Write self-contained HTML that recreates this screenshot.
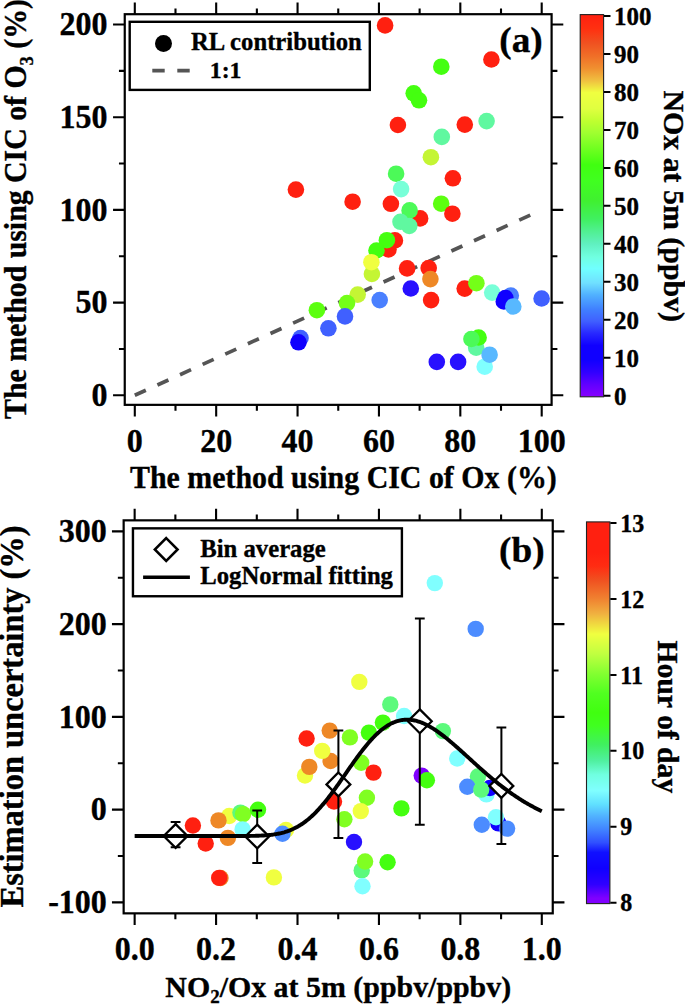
<!DOCTYPE html><html><head><meta charset="utf-8"><style>html,body{margin:0;padding:0;background:#fff;width:685px;height:1005px;overflow:hidden}</style></head><body>
<svg width="685" height="1005" viewBox="0 0 685 1005" style="position:absolute;left:0;top:0;font-family:'Liberation Serif',serif;font-weight:bold">
<style>text{stroke:#000;stroke-width:0.35px;stroke-linejoin:round}</style>
<rect width="685" height="1005" fill="#fff"/>
<line x1="134.80" y1="395.30" x2="541.70" y2="209.90" stroke="#555" stroke-width="3.7" stroke-dasharray="12.1 12.75"/>
<circle cx="385.1" cy="25.4" r="8.3" fill="#ff2010"/>
<circle cx="491.4" cy="59.5" r="8.3" fill="#ff2010"/>
<circle cx="441.3" cy="66.7" r="8.3" fill="#44ff10"/>
<circle cx="413.7" cy="93.3" r="8.3" fill="#44ff10"/>
<circle cx="419.0" cy="100.3" r="8.3" fill="#44ff10"/>
<circle cx="397.9" cy="125.0" r="8.3" fill="#ff2010"/>
<circle cx="464.8" cy="124.6" r="8.3" fill="#ff2010"/>
<circle cx="486.6" cy="121.1" r="8.3" fill="#60f8a0"/>
<circle cx="441.8" cy="136.9" r="8.3" fill="#60f8a0"/>
<circle cx="430.9" cy="157.2" r="8.3" fill="#c4f534"/>
<circle cx="396.1" cy="173.7" r="8.3" fill="#4cfa58"/>
<circle cx="452.9" cy="178.3" r="8.3" fill="#ff2010"/>
<circle cx="401.1" cy="189.1" r="8.3" fill="#78ffd8"/>
<circle cx="295.9" cy="189.6" r="8.3" fill="#ff2010"/>
<circle cx="352.6" cy="201.7" r="8.3" fill="#ff2010"/>
<circle cx="390.9" cy="203.8" r="8.3" fill="#ff2010"/>
<circle cx="441.2" cy="203.7" r="8.3" fill="#5cff10"/>
<circle cx="452.4" cy="213.7" r="8.3" fill="#ff2010"/>
<circle cx="420.1" cy="218.4" r="8.3" fill="#ff2010"/>
<circle cx="409.6" cy="210.4" r="8.3" fill="#4cfa58"/>
<circle cx="409.3" cy="226.0" r="8.3" fill="#60f8a0"/>
<circle cx="400.5" cy="221.8" r="8.3" fill="#60f8a0"/>
<circle cx="394.9" cy="240.4" r="8.3" fill="#ff2010"/>
<circle cx="388.5" cy="249.5" r="8.3" fill="#ff2010"/>
<circle cx="386.9" cy="240.2" r="8.3" fill="#44ff10"/>
<circle cx="376.5" cy="250.5" r="8.3" fill="#44ff10"/>
<circle cx="371.9" cy="274.0" r="8.3" fill="#c4f534"/>
<circle cx="371.4" cy="262.2" r="8.3" fill="#f0ff40"/>
<circle cx="407.1" cy="268.4" r="8.3" fill="#ff2010"/>
<circle cx="428.7" cy="268.1" r="8.3" fill="#ff2010"/>
<circle cx="430.4" cy="279.1" r="8.3" fill="#ee8826"/>
<circle cx="431.1" cy="300.1" r="8.3" fill="#ff2010"/>
<circle cx="410.8" cy="288.5" r="8.3" fill="#2810ff"/>
<circle cx="464.7" cy="288.6" r="8.3" fill="#ff2010"/>
<circle cx="476.4" cy="283.2" r="8.3" fill="#74ff18"/>
<circle cx="492.2" cy="292.6" r="8.3" fill="#78ffd8"/>
<circle cx="510.8" cy="295.5" r="8.3" fill="#4a80ff"/>
<circle cx="505.4" cy="298.0" r="8.3" fill="#1000ff"/>
<circle cx="503.8" cy="301.5" r="8.3" fill="#1000ff"/>
<circle cx="513.3" cy="306.5" r="8.3" fill="#58b8ff"/>
<circle cx="541.6" cy="298.5" r="8.3" fill="#4060ff"/>
<circle cx="357.7" cy="294.6" r="8.3" fill="#c4f534"/>
<circle cx="347.0" cy="303.1" r="8.3" fill="#74ff18"/>
<circle cx="345.0" cy="316.4" r="8.3" fill="#4060ff"/>
<circle cx="316.9" cy="310.2" r="8.3" fill="#5cff10"/>
<circle cx="328.4" cy="328.3" r="8.3" fill="#4060ff"/>
<circle cx="379.7" cy="300.1" r="8.3" fill="#4a80ff"/>
<circle cx="300.5" cy="338.0" r="8.3" fill="#4060ff"/>
<circle cx="298.5" cy="342.3" r="8.3" fill="#1000ff"/>
<circle cx="476.2" cy="347.7" r="8.3" fill="#60f8a0"/>
<circle cx="478.6" cy="337.5" r="8.3" fill="#44ff10"/>
<circle cx="471.4" cy="339.0" r="8.3" fill="#4cfa58"/>
<circle cx="484.7" cy="366.7" r="8.3" fill="#80ffff"/>
<circle cx="489.6" cy="354.7" r="8.3" fill="#58b8ff"/>
<circle cx="436.8" cy="361.9" r="8.3" fill="#2810ff"/>
<circle cx="458.1" cy="361.9" r="8.3" fill="#2810ff"/>
<rect x="124.75" y="14.2" width="426.85" height="390.65000000000003" fill="none" stroke="#000" stroke-width="2.2"/>
<path d="M134.80 14.2V2.5M134.80 404.85V416.55M175.49 14.2V8.399999999999999M175.49 404.85V410.65000000000003M216.18 14.2V2.5M216.18 404.85V416.55M256.87 14.2V8.399999999999999M256.87 404.85V410.65000000000003M297.56 14.2V2.5M297.56 404.85V416.55M338.25 14.2V8.399999999999999M338.25 404.85V410.65000000000003M378.94 14.2V2.5M378.94 404.85V416.55M419.63 14.2V8.399999999999999M419.63 404.85V410.65000000000003M460.32 14.2V2.5M460.32 404.85V416.55M501.01 14.2V8.399999999999999M501.01 404.85V410.65000000000003M541.70 14.2V2.5M541.70 404.85V416.55" stroke="#000" stroke-width="2.1" fill="none"/>
<path d="M124.75 395.30H113.05M551.6 395.30H563.3000000000001M124.75 348.95H118.95M551.6 348.95H557.4M124.75 302.60H113.05M551.6 302.60H563.3000000000001M124.75 256.25H118.95M551.6 256.25H557.4M124.75 209.90H113.05M551.6 209.90H563.3000000000001M124.75 163.55H118.95M551.6 163.55H557.4M124.75 117.20H113.05M551.6 117.20H563.3000000000001M124.75 70.85H118.95M551.6 70.85H557.4M124.75 24.50H113.05M551.6 24.50H563.3000000000001" stroke="#000" stroke-width="2.1" fill="none"/>
<text transform="translate(134.80 452.3) scale(1 1.04)" font-size="32" text-anchor="middle" >0</text>
<text transform="translate(216.18 452.3) scale(1 1.04)" font-size="32" text-anchor="middle" >20</text>
<text transform="translate(297.56 452.3) scale(1 1.04)" font-size="32" text-anchor="middle" >40</text>
<text transform="translate(378.94 452.3) scale(1 1.04)" font-size="32" text-anchor="middle" >60</text>
<text transform="translate(460.32 452.3) scale(1 1.04)" font-size="32" text-anchor="middle" >80</text>
<text transform="translate(541.70 452.3) scale(1 1.04)" font-size="32" text-anchor="middle" >100</text>
<text transform="translate(107.6 406.10) scale(1 1.03)" font-size="32" text-anchor="end" >0</text>
<text transform="translate(107.6 313.40) scale(1 1.03)" font-size="32" text-anchor="end" >50</text>
<text transform="translate(107.6 220.70) scale(1 1.03)" font-size="32" text-anchor="end" >100</text>
<text transform="translate(107.6 128.00) scale(1 1.03)" font-size="32" text-anchor="end" >150</text>
<text transform="translate(107.6 35.30) scale(1 1.03)" font-size="32" text-anchor="end" >200</text>
<text transform="translate(130.0 487.7) scale(1 1.05)" font-size="29.9" text-anchor="start" >The method using CIC of Ox (%)</text>
<text transform="translate(26.4 418.9) rotate(-90) scale(1 1.03)" font-size="29.8">The method using CIC of O<tspan font-size="18.5" dy="6">3</tspan><tspan dy="-6"> (%)</tspan></text>
<rect x="129.7" y="21.8" width="240.1" height="68.1" fill="#fff" stroke="#000" stroke-width="2.4"/>
<circle cx="163.5" cy="43.4" r="8.5" fill="#000"/>
<line x1="152.3" y1="70.7" x2="190" y2="70.7" stroke="#555" stroke-width="3.8" stroke-dasharray="12.4 12.6"/>
<text transform="translate(191.0 50.2) scale(1 0.99)" font-size="24.7" text-anchor="start" >RL contribution</text>
<text transform="translate(209.8 78.0) scale(1 1.0)" font-size="23.8" text-anchor="start" >1:1</text>
<text transform="translate(499.3 52.0) scale(1 0.97)" font-size="37.3" text-anchor="start" >(a)</text>
<defs>
<linearGradient id="g1" x1="0" y1="1" x2="0" y2="0"><stop offset="0" stop-color="#8800ff"/><stop offset="0.033" stop-color="#6000ff"/><stop offset="0.065" stop-color="#3000ff"/><stop offset="0.097" stop-color="#1000ff"/><stop offset="0.134" stop-color="#1000ff"/><stop offset="0.166" stop-color="#2828ff"/><stop offset="0.198" stop-color="#4060ff"/><stop offset="0.229" stop-color="#4080ff"/><stop offset="0.266" stop-color="#50b0ff"/><stop offset="0.298" stop-color="#70e0ff"/><stop offset="0.335" stop-color="#70ffff"/><stop offset="0.366" stop-color="#70ffe0"/><stop offset="0.4" stop-color="#60f0c0"/><stop offset="0.434" stop-color="#50f090"/><stop offset="0.465" stop-color="#40f060"/><stop offset="0.513" stop-color="#40f030"/><stop offset="0.565" stop-color="#40ff20"/><stop offset="0.607" stop-color="#40ff10"/><stop offset="0.649" stop-color="#70ff20"/><stop offset="0.691" stop-color="#a0ff30"/><stop offset="0.722" stop-color="#c0ff30"/><stop offset="0.754" stop-color="#e0ff40"/><stop offset="0.796" stop-color="#f0ff40"/><stop offset="0.827" stop-color="#f0c040"/><stop offset="0.859" stop-color="#f09030"/><stop offset="0.89" stop-color="#f07028"/><stop offset="0.927" stop-color="#f05020"/><stop offset="0.963" stop-color="#ff3010"/><stop offset="1" stop-color="#ff2010"/></linearGradient>
</defs>
<rect x="580.2" y="14.6" width="23.4" height="382.2" fill="url(#g1)" stroke="#222" stroke-width="1.1"/>
<path d="M604 395.70H610.5M604 357.73H610.5M604 319.76H610.5M604 281.79H610.5M604 243.82H610.5M604 205.85H610.5M604 167.88H610.5M604 129.91H610.5M604 91.94H610.5M604 53.97H610.5M604 16.00H610.5" stroke="#000" stroke-width="2"/>
<text transform="translate(614.0 404.50) scale(1 1.04)" font-size="25.0" text-anchor="start" >0</text>
<text transform="translate(614.0 366.53) scale(1 1.04)" font-size="25.0" text-anchor="start" >10</text>
<text transform="translate(614.0 328.56) scale(1 1.04)" font-size="25.0" text-anchor="start" >20</text>
<text transform="translate(614.0 290.59) scale(1 1.04)" font-size="25.0" text-anchor="start" >30</text>
<text transform="translate(614.0 252.62) scale(1 1.04)" font-size="25.0" text-anchor="start" >40</text>
<text transform="translate(614.0 214.65) scale(1 1.04)" font-size="25.0" text-anchor="start" >50</text>
<text transform="translate(614.0 176.68) scale(1 1.04)" font-size="25.0" text-anchor="start" >60</text>
<text transform="translate(614.0 138.71) scale(1 1.04)" font-size="25.0" text-anchor="start" >70</text>
<text transform="translate(614.0 100.74) scale(1 1.04)" font-size="25.0" text-anchor="start" >80</text>
<text transform="translate(614.0 62.77) scale(1 1.04)" font-size="25.0" text-anchor="start" >90</text>
<text transform="translate(614.0 24.80) scale(1 1.04)" font-size="25.0" text-anchor="start" >100</text>
<text transform="translate(663.5 90.4) rotate(90) scale(1 1.0)" font-size="29.9">NOx at 5m (ppbv)</text>
<circle cx="192.9" cy="825.5" r="8.2" fill="#ff2010"/>
<circle cx="205.7" cy="843.5" r="8.2" fill="#ff2010"/>
<circle cx="220.5" cy="878.0" r="8.2" fill="#ee8826"/>
<circle cx="219.2" cy="877.9" r="8.2" fill="#ff2010"/>
<circle cx="229.2" cy="816.0" r="8.2" fill="#f0ff40"/>
<circle cx="218.5" cy="820.4" r="8.2" fill="#ee8826"/>
<circle cx="240.4" cy="812.6" r="8.2" fill="#5cfa7c"/>
<circle cx="243.1" cy="814.1" r="8.2" fill="#80ff22"/>
<circle cx="258.0" cy="809.7" r="8.2" fill="#44ff10"/>
<circle cx="242.6" cy="829.4" r="8.2" fill="#80ffff"/>
<circle cx="227.9" cy="837.9" r="8.2" fill="#ee8826"/>
<circle cx="286.0" cy="830.0" r="8.2" fill="#f0ff40"/>
<circle cx="282.5" cy="833.8" r="8.2" fill="#4c8cff"/>
<circle cx="273.9" cy="877.4" r="8.2" fill="#f0ff40"/>
<circle cx="306.6" cy="738.5" r="8.2" fill="#ff2010"/>
<circle cx="329.7" cy="730.6" r="8.2" fill="#ee8826"/>
<circle cx="330.6" cy="761.0" r="8.2" fill="#ee8826"/>
<circle cx="322.2" cy="750.9" r="8.2" fill="#f0ff40"/>
<circle cx="305.0" cy="775.5" r="8.2" fill="#f0ff40"/>
<circle cx="309.3" cy="766.9" r="8.2" fill="#ee8826"/>
<circle cx="349.9" cy="737.4" r="8.2" fill="#80ff22"/>
<circle cx="368.9" cy="732.6" r="8.2" fill="#44ff10"/>
<circle cx="382.9" cy="722.6" r="8.2" fill="#44ff10"/>
<circle cx="359.3" cy="681.9" r="8.2" fill="#f0ff40"/>
<circle cx="390.3" cy="704.4" r="8.2" fill="#5cfa7c"/>
<circle cx="404.1" cy="716.0" r="8.2" fill="#80ffff"/>
<circle cx="361.2" cy="762.7" r="8.2" fill="#80ff22"/>
<circle cx="373.5" cy="772.6" r="8.2" fill="#ff2010"/>
<circle cx="334.0" cy="801.5" r="8.2" fill="#ff2010"/>
<circle cx="366.9" cy="797.8" r="8.2" fill="#80ff22"/>
<circle cx="360.8" cy="811.1" r="8.2" fill="#f0ff40"/>
<circle cx="344.4" cy="819.3" r="8.2" fill="#80ff22"/>
<circle cx="354.0" cy="842.0" r="8.2" fill="#2810ff"/>
<circle cx="401.4" cy="808.4" r="8.2" fill="#44ff10"/>
<circle cx="361.7" cy="870.4" r="8.2" fill="#5cfa7c"/>
<circle cx="365.1" cy="861.5" r="8.2" fill="#80ff22"/>
<circle cx="387.6" cy="862.2" r="8.2" fill="#44ff10"/>
<circle cx="362.5" cy="886.2" r="8.2" fill="#80ffff"/>
<circle cx="434.8" cy="583.1" r="8.2" fill="#80ffff"/>
<circle cx="475.7" cy="628.9" r="8.2" fill="#4c8cff"/>
<circle cx="442.9" cy="731.1" r="8.2" fill="#5cfa7c"/>
<circle cx="457.2" cy="758.5" r="8.2" fill="#80ffff"/>
<circle cx="421.7" cy="775.6" r="8.2" fill="#8000ff"/>
<circle cx="426.9" cy="780.3" r="8.2" fill="#44ff10"/>
<circle cx="477.9" cy="776.5" r="8.2" fill="#5cfa7c"/>
<circle cx="467.3" cy="786.8" r="8.2" fill="#4c8cff"/>
<circle cx="486.4" cy="794.4" r="8.2" fill="#80ffff"/>
<circle cx="489.9" cy="788.0" r="8.2" fill="#1000ff"/>
<circle cx="481.2" cy="789.6" r="8.2" fill="#5cfa7c"/>
<circle cx="498.4" cy="823.4" r="8.2" fill="#1000ff"/>
<circle cx="496.0" cy="817.2" r="8.2" fill="#80ffff"/>
<circle cx="481.8" cy="824.7" r="8.2" fill="#4c8cff"/>
<circle cx="507.1" cy="828.6" r="8.2" fill="#4c8cff"/>
<path d="M175.6 824.1L187.5 836.0L175.6 847.9L163.7 836.0Z" fill="#fff" stroke="#000" stroke-width="2.3"/>
<path d="M257.2 824.6L269.09999999999997 836.5L257.2 848.4L245.29999999999998 836.5Z" fill="#fff" stroke="#000" stroke-width="2.3"/>
<path d="M338.4 772.5L350.29999999999995 784.4L338.4 796.3L326.5 784.4Z" fill="#fff" stroke="#000" stroke-width="2.3"/>
<path d="M419.8 709.4L431.7 721.3L419.8 733.1999999999999L407.90000000000003 721.3Z" fill="#fff" stroke="#000" stroke-width="2.3"/>
<path d="M501.4 774.0L513.3 785.9L501.4 797.8L489.5 785.9Z" fill="#fff" stroke="#000" stroke-width="2.3"/>
<path d="M175.6 822.0V824.1M175.6 847.9V847.3M170.7 822.0H180.5M170.7 847.3H180.5M257.2 810.4V824.6M257.2 848.4V863.0M252.29999999999998 810.4H262.09999999999997M252.29999999999998 863.0H262.09999999999997M338.4 730.6V772.5M338.4 796.3V838.1M333.5 730.6H343.29999999999995M333.5 838.1H343.29999999999995M419.8 618.5V709.4M419.8 733.1999999999999V824.7M414.90000000000003 618.5H424.7M414.90000000000003 824.7H424.7M501.4 727.6V774.0M501.4 797.8V843.9M496.5 727.6H506.29999999999995M496.5 843.9H506.29999999999995" stroke="#000" stroke-width="2.0" fill="none"/>
<polyline points="134.65,836.03 135.67,836.03 136.69,836.03 137.70,836.03 138.72,836.03 139.74,836.03 140.76,836.03 141.78,836.03 142.79,836.03 143.81,836.03 144.83,836.03 145.85,836.03 146.86,836.03 147.88,836.03 148.90,836.03 149.92,836.03 150.94,836.03 151.95,836.03 152.97,836.03 153.99,836.03 155.01,836.03 156.03,836.03 157.04,836.03 158.06,836.03 159.08,836.03 160.10,836.03 161.11,836.03 162.13,836.03 163.15,836.03 164.17,836.03 165.19,836.03 166.20,836.03 167.22,836.03 168.24,836.03 169.26,836.03 170.28,836.03 171.29,836.03 172.31,836.03 173.33,836.03 174.35,836.03 175.37,836.03 176.38,836.03 177.40,836.03 178.42,836.03 179.44,836.03 180.45,836.03 181.47,836.03 182.49,836.03 183.51,836.03 184.53,836.03 185.54,836.03 186.56,836.03 187.58,836.03 188.60,836.03 189.62,836.03 190.63,836.03 191.65,836.03 192.67,836.03 193.69,836.03 194.70,836.03 195.72,836.03 196.74,836.03 197.76,836.03 198.78,836.03 199.79,836.03 200.81,836.03 201.83,836.03 202.85,836.03 203.87,836.03 204.88,836.03 205.90,836.03 206.92,836.03 207.94,836.03 208.95,836.03 209.97,836.03 210.99,836.03 212.01,836.03 213.03,836.03 214.04,836.03 215.06,836.03 216.08,836.03 217.10,836.03 218.12,836.03 219.13,836.03 220.15,836.03 221.17,836.03 222.19,836.03 223.21,836.03 224.22,836.03 225.24,836.03 226.26,836.03 227.28,836.03 228.29,836.03 229.31,836.03 230.33,836.02 231.35,836.02 232.37,836.02 233.38,836.02 234.40,836.02 235.42,836.02 236.44,836.02 237.46,836.01 238.47,836.01 239.49,836.01 240.51,836.01 241.53,836.00 242.54,836.00 243.56,835.99 244.58,835.98 245.60,835.98 246.62,835.97 247.63,835.96 248.65,835.95 249.67,835.93 250.69,835.92 251.71,835.90 252.72,835.88 253.74,835.86 254.76,835.84 255.78,835.81 256.79,835.78 257.81,835.75 258.83,835.71 259.85,835.67 260.87,835.62 261.88,835.57 262.90,835.51 263.92,835.45 264.94,835.38 265.96,835.31 266.97,835.23 267.99,835.14 269.01,835.04 270.03,834.94 271.05,834.82 272.06,834.70 273.08,834.57 274.10,834.42 275.12,834.27 276.13,834.10 277.15,833.92 278.17,833.73 279.19,833.52 280.21,833.30 281.22,833.06 282.24,832.81 283.26,832.54 284.28,832.26 285.30,831.95 286.31,831.63 287.33,831.29 288.35,830.93 289.37,830.55 290.38,830.16 291.40,829.73 292.42,829.29 293.44,828.83 294.46,828.34 295.47,827.83 296.49,827.29 297.51,826.74 298.53,826.15 299.55,825.54 300.56,824.91 301.58,824.25 302.60,823.57 303.62,822.86 304.64,822.12 305.65,821.36 306.67,820.56 307.69,819.75 308.71,818.90 309.72,818.03 310.74,817.14 311.76,816.21 312.78,815.26 313.80,814.29 314.81,813.29 315.83,812.26 316.85,811.20 317.87,810.13 318.89,809.02 319.90,807.90 320.92,806.75 321.94,805.57 322.96,804.38 323.97,803.16 324.99,801.92 326.01,800.66 327.03,799.38 328.05,798.08 329.06,796.77 330.08,795.43 331.10,794.09 332.12,792.72 333.14,791.34 334.15,789.95 335.17,788.54 336.19,787.13 337.21,785.70 338.23,784.26 339.24,782.82 340.26,781.37 341.28,779.91 342.30,778.45 343.31,776.99 344.33,775.52 345.35,774.05 346.37,772.58 347.39,771.11 348.40,769.65 349.42,768.18 350.44,766.73 351.46,765.27 352.48,763.83 353.49,762.39 354.51,760.96 355.53,759.55 356.55,758.14 357.56,756.75 358.58,755.37 359.60,754.00 360.62,752.65 361.64,751.32 362.65,750.01 363.67,748.71 364.69,747.44 365.71,746.18 366.73,744.95 367.74,743.74 368.76,742.55 369.78,741.38 370.80,740.24 371.81,739.13 372.83,738.04 373.85,736.98 374.87,735.95 375.89,734.95 376.90,733.97 377.92,733.03 378.94,732.11 379.96,731.22 380.98,730.37 381.99,729.55 383.01,728.75 384.03,728.00 385.05,727.27 386.07,726.57 387.08,725.91 388.10,725.28 389.12,724.69 390.14,724.12 391.15,723.60 392.17,723.10 393.19,722.64 394.21,722.21 395.23,721.82 396.24,721.45 397.26,721.13 398.28,720.83 399.30,720.57 400.32,720.34 401.33,720.15 402.35,719.99 403.37,719.86 404.39,719.76 405.40,719.69 406.42,719.66 407.44,719.65 408.46,719.68 409.48,719.74 410.49,719.83 411.51,719.95 412.53,720.09 413.55,720.27 414.57,720.48 415.58,720.71 416.60,720.97 417.62,721.26 418.64,721.57 419.65,721.91 420.67,722.28 421.69,722.67 422.71,723.08 423.73,723.52 424.74,723.98 425.76,724.47 426.78,724.97 427.80,725.50 428.82,726.05 429.83,726.62 430.85,727.21 431.87,727.82 432.89,728.45 433.91,729.09 434.92,729.75 435.94,730.43 436.96,731.13 437.98,731.84 438.99,732.57 440.01,733.31 441.03,734.06 442.05,734.83 443.07,735.61 444.08,736.40 445.10,737.21 446.12,738.02 447.14,738.85 448.16,739.69 449.17,740.53 450.19,741.38 451.21,742.25 452.23,743.12 453.24,743.99 454.26,744.88 455.28,745.77 456.30,746.66 457.32,747.56 458.33,748.47 459.35,749.38 460.37,750.29 461.39,751.21 462.41,752.13 463.42,753.05 464.44,753.98 465.46,754.91 466.48,755.83 467.50,756.76 468.51,757.69 469.53,758.62 470.55,759.55 471.57,760.48 472.58,761.40 473.60,762.33 474.62,763.25 475.64,764.17 476.66,765.09 477.67,766.01 478.69,766.92 479.71,767.84 480.73,768.74 481.75,769.65 482.76,770.55 483.78,771.44 484.80,772.33 485.82,773.22 486.83,774.10 487.85,774.98 488.87,775.85 489.89,776.71 490.91,777.57 491.92,778.43 492.94,779.27 493.96,780.12 494.98,780.95 496.00,781.78 497.01,782.60 498.03,783.42 499.05,784.23 500.07,785.03 501.09,785.82 502.10,786.61 503.12,787.39 504.14,788.16 505.16,788.92 506.17,789.68 507.19,790.43 508.21,791.17 509.23,791.91 510.25,792.63 511.26,793.35 512.28,794.06 513.30,794.76 514.32,795.46 515.34,796.14 516.35,796.82 517.37,797.49 518.39,798.15 519.41,798.81 520.42,799.45 521.44,800.09 522.46,800.72 523.48,801.34 524.50,801.96 525.51,802.56 526.53,803.16 527.55,803.75 528.57,804.33 529.59,804.90 530.60,805.47 531.62,806.03 532.64,806.58 533.66,807.12 534.67,807.65 535.69,808.18 536.71,808.70 537.73,809.21 538.75,809.71 539.76,810.21 540.78,810.70 541.80,811.18" fill="none" stroke="#000" stroke-width="3.9" stroke-linejoin="round"/>
<rect x="123.65" y="520.35" width="429.1" height="393.0" fill="none" stroke="#000" stroke-width="2.2"/>
<path d="M134.65 520.35V508.65000000000003M134.65 913.35V925.0500000000001M175.37 520.35V514.5500000000001M175.37 913.35V919.15M216.08 520.35V508.65000000000003M216.08 913.35V925.0500000000001M256.80 520.35V514.5500000000001M256.80 913.35V919.15M297.51 520.35V508.65000000000003M297.51 913.35V925.0500000000001M338.23 520.35V514.5500000000001M338.23 913.35V919.15M378.94 520.35V508.65000000000003M378.94 913.35V925.0500000000001M419.65 520.35V514.5500000000001M419.65 913.35V919.15M460.37 520.35V508.65000000000003M460.37 913.35V925.0500000000001M501.09 520.35V514.5500000000001M501.09 913.35V919.15M541.80 520.35V508.65000000000003M541.80 913.35V925.0500000000001" stroke="#000" stroke-width="2.1" fill="none"/>
<path d="M123.65 902.33H111.95M552.75 902.33H564.45M123.65 855.97H117.85000000000001M552.75 855.97H558.55M123.65 809.60H111.95M552.75 809.60H564.45M123.65 763.24H117.85000000000001M552.75 763.24H558.55M123.65 716.87H111.95M552.75 716.87H564.45M123.65 670.50H117.85000000000001M552.75 670.50H558.55M123.65 624.14H111.95M552.75 624.14H564.45M123.65 577.77H117.85000000000001M552.75 577.77H558.55M123.65 531.41H111.95M552.75 531.41H564.45" stroke="#000" stroke-width="2.1" fill="none"/>
<text transform="translate(134.65 960.3) scale(1 1.04)" font-size="32" text-anchor="middle" >0.0</text>
<text transform="translate(216.08 960.3) scale(1 1.04)" font-size="32" text-anchor="middle" >0.2</text>
<text transform="translate(297.51 960.3) scale(1 1.04)" font-size="32" text-anchor="middle" >0.4</text>
<text transform="translate(378.94 960.3) scale(1 1.04)" font-size="32" text-anchor="middle" >0.6</text>
<text transform="translate(460.37 960.3) scale(1 1.04)" font-size="32" text-anchor="middle" >0.8</text>
<text transform="translate(541.80 960.3) scale(1 1.04)" font-size="32" text-anchor="middle" >1.0</text>
<text transform="translate(106.8 913.13) scale(1 1.03)" font-size="32" text-anchor="end" >-100</text>
<text transform="translate(106.8 820.40) scale(1 1.03)" font-size="32" text-anchor="end" >0</text>
<text transform="translate(106.8 727.67) scale(1 1.03)" font-size="32" text-anchor="end" >100</text>
<text transform="translate(106.8 634.94) scale(1 1.03)" font-size="32" text-anchor="end" >200</text>
<text transform="translate(106.8 542.21) scale(1 1.03)" font-size="32" text-anchor="end" >300</text>
<text x="165.3" y="996.9" font-size="29.9">NO<tspan font-size="19" dy="6">2</tspan><tspan dy="-6">/Ox at 5m (ppbv/ppbv)</tspan></text>
<text transform="translate(22.7 907.5) rotate(-90) scale(1 1.03)" font-size="32.45">Estimation uncertainty (%)</text>
<rect x="132.95" y="528.35" width="268.95" height="67.9" fill="#fff" stroke="#000" stroke-width="2.4"/>
<path d="M166.2 538.1L177.6 549.5L166.2 560.9L154.8 549.5Z" fill="none" stroke="#000" stroke-width="2.5"/>
<line x1="143.1" y1="577.2" x2="189.9" y2="577.2" stroke="#000" stroke-width="3.6"/>
<text transform="translate(200.3 556.5) scale(1 0.99)" font-size="24.7" text-anchor="start" >Bin average</text>
<text transform="translate(200.3 584.3) scale(1 0.99)" font-size="24.7" text-anchor="start" >LogNormal fitting</text>
<text transform="translate(499.0 562.1) scale(1 0.97)" font-size="37.3" text-anchor="start" >(b)</text>
<defs>
<linearGradient id="g2" x1="0" y1="1" x2="0" y2="0"><stop offset="0" stop-color="#8000ff"/><stop offset="0.014" stop-color="#8000ff"/><stop offset="0.05" stop-color="#3000ff"/><stop offset="0.092" stop-color="#1000ff"/><stop offset="0.134" stop-color="#1010ff"/><stop offset="0.16" stop-color="#3050ff"/><stop offset="0.192" stop-color="#4080ff"/><stop offset="0.228" stop-color="#50b0ff"/><stop offset="0.26" stop-color="#60e0ff"/><stop offset="0.296" stop-color="#80ffff"/><stop offset="0.338" stop-color="#70ffe0"/><stop offset="0.374" stop-color="#50f0a0"/><stop offset="0.416" stop-color="#40f060"/><stop offset="0.466" stop-color="#40ff20"/><stop offset="0.5" stop-color="#40ff10"/><stop offset="0.55" stop-color="#50ff20"/><stop offset="0.6" stop-color="#80ff30"/><stop offset="0.654" stop-color="#c0ff40"/><stop offset="0.706" stop-color="#f0ff40"/><stop offset="0.76" stop-color="#f0b040"/><stop offset="0.8" stop-color="#f08030"/><stop offset="0.848" stop-color="#f05020"/><stop offset="0.884" stop-color="#ff2c12"/><stop offset="0.92" stop-color="#ff2010"/><stop offset="1" stop-color="#ff2010"/></linearGradient>
</defs>
<rect x="586.5" y="521.9" width="23.4" height="381.70000000000005" fill="url(#g2)" stroke="#222" stroke-width="1.1"/>
<path d="M610.3 902.70H616.5M610.3 826.78H616.5M610.3 750.86H616.5M610.3 674.94H616.5M610.3 599.02H616.5M610.3 523.10H616.5" stroke="#000" stroke-width="2"/>
<text transform="translate(620.3 911.30) scale(1 1.05)" font-size="24.0" text-anchor="start" >8</text>
<text transform="translate(620.3 835.38) scale(1 1.05)" font-size="24.0" text-anchor="start" >9</text>
<text transform="translate(620.3 759.46) scale(1 1.05)" font-size="24.0" text-anchor="start" >10</text>
<text transform="translate(620.3 683.54) scale(1 1.05)" font-size="24.0" text-anchor="start" >11</text>
<text transform="translate(620.3 607.62) scale(1 1.05)" font-size="24.0" text-anchor="start" >12</text>
<text transform="translate(620.3 531.70) scale(1 1.05)" font-size="24.0" text-anchor="start" >13</text>
<text transform="translate(657.7 640.4) rotate(90) scale(1 1.0)" font-size="29.7">Hour of day</text>
</svg>
</body></html>
